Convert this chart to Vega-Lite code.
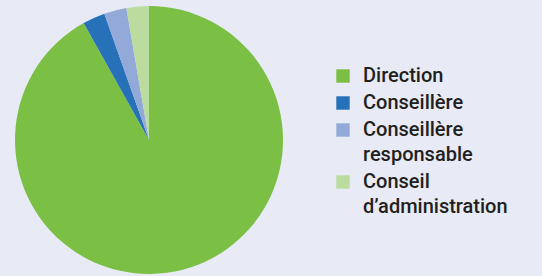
{
  "$schema": "https://vega.github.io/schema/vega-lite/v6.json",
  "width": 298,
  "height": 266,
  "autosize": "none",
  "padding": {"left": 0, "top": 7, "right": 244, "bottom": 3},
  "background": "#e8ebf5",
  "data": {
    "values": [
      {"categorie": "Direction", "valeur": 34, "ordre": 1},
      {"categorie": "Conseillère", "valeur": 1, "ordre": 2},
      {"categorie": "Conseillère responsable", "valeur": 1, "ordre": 3},
      {"categorie": "Conseil d’administration", "valeur": 1, "ordre": 4}
    ]
  },
  "mark": {"type": "arc", "outerRadius": 134, "stroke": null},
  "encoding": {
    "theta": {"field": "valeur", "type": "quantitative", "stack": true},
    "order": {"field": "ordre", "type": "quantitative"},
    "color": {
      "field": "categorie",
      "type": "nominal",
      "sort": ["Direction", "Conseillère", "Conseillère responsable", "Conseil d’administration"],
      "scale": {
        "domain": ["Direction", "Conseillère", "Conseillère responsable", "Conseil d’administration"],
        "range": ["#7bbf45", "#2771b9", "#93aad8", "#bcdc9f"]
      },
      "legend": {
        "title": null,
        "orient": "none",
        "legendX": 333,
        "legendY": 59,
        "symbolType": "square",
        "symbolSize": 180,
        "symbolStrokeWidth": 0,
        "labelFont": "Roboto",
        "labelFontSize": 20,
        "labelFontWeight": 500,
        "labelColor": "#231f20",
        "labelOffset": 10,
        "labelLimit": 300,
        "rowPadding": 7,
        "labelExpr": "datum.label == 'Conseillère responsable' ? ['Conseillère', 'responsable'] : datum.label == 'Conseil d’administration' ? ['Conseil', 'd’administration'] : datum.label",
        "encode": {"labels": {"enter": {"lineHeight": {"value": 25}}, "update": {"lineHeight": {"value": 25}}}}
      }
    }
  },
  "config": {"view": {"stroke": null}, "style": {"guide-label": {"lineHeight": 25}}}
}
